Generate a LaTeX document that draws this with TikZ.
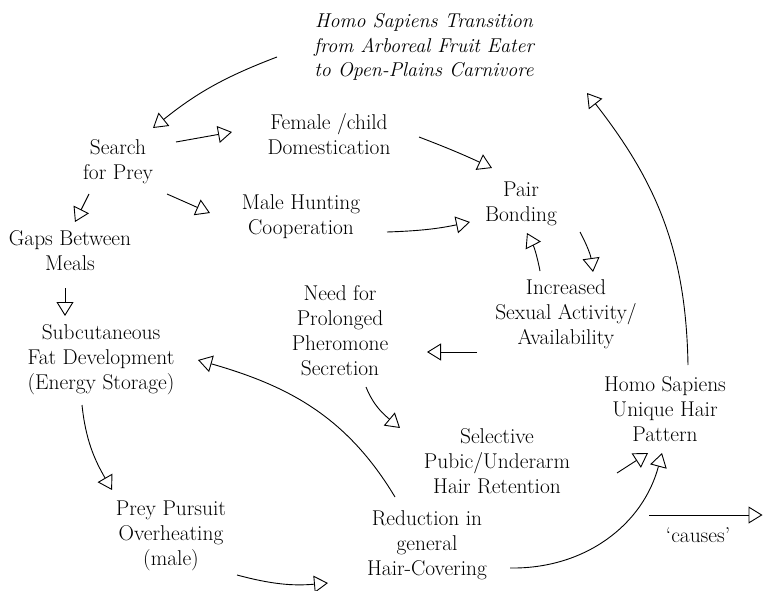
\documentclass[tikz,border=0pt]{standalone}
\usepackage{fontspec}
\usetikzlibrary{arrows.meta}
\begin{document}
\begin{tikzpicture}[x=1pt,y=-1pt,
  lbl/.style={align=center, font=\fontsize{21.4}{25}\selectfont, inner sep=0pt},
  cause/.style={-{Triangle[open,length=14pt,width=17pt]}, line width=0.9pt}]
\useasboundingbox (0,0) rectangle (763,591);

% factors of the loop
\node[lbl, font=\itshape\fontsize{20}{24.5}\selectfont] (title) at (424,47)
  {Homo Sapiens Transition\\from Arboreal Fruit Eater\\to Open-Plains Carnivore};
\node[lbl] (search) at (118,162) {Search\\for Prey};
\node[lbl] (female) at (329,134) {Female /child\\Domestication};
\node[lbl] (male)   at (301,217) {Male Hunting\\Cooperation};
\node[lbl] (gaps)   at (70,251)  {Gaps Between\\Meals};
\node[lbl] (pair)   at (521,204) {Pair\\Bonding};
\node[lbl] (incr)   at (566,314) {Increased\\Sexual Activity/\\Availability};
\node[lbl] (need)   at (340,331) {Need for\\Prolonged\\Pheromone\\Secretion};
\node[lbl] (subcut) at (101,360) {Subcutaneous\\Fat Development\\(Energy Storage)};
\node[lbl] (prey)   at (171,536) {Prey Pursuit\\Overheating\\(male)};
\node[lbl] (reduc)  at (427,545) {Reduction in\\general\\Hair-Covering};
\node[lbl] (select) at (497,461) {Selective\\Pubic/Underarm\\Hair Retention};
\node[lbl] (hair)   at (665,409) {Homo Sapiens\\Unique Hair\\Pattern};

% causal links
\draw[cause] ([shift={(-147,10)}]title.center) to[bend right=9] ([shift={(35,-34)}]search.center);
\draw[cause] ([shift={(58,-20)}]search.center) -- ([shift={(-97,-2)}]female.center);
\draw[cause] ([shift={(49,32)}]search.center) -- ([shift={(-91,-4)}]male.center);
\draw[cause] ([shift={(-29,32)}]search.center) -- ([shift={(5,-29)}]gaps.center);
\draw[cause] ([shift={(-5,37)}]gaps.center) -- ([shift={(-36,-44)}]subcut.center);
\draw[cause] ([shift={(90,3)}]female.center) to[bend left=2] ([shift={(-29,-36)}]pair.center);
\draw[cause] ([shift={(86,15)}]male.center) to[bend right=5] ([shift={(-51,18)}]pair.center);
\draw[cause] ([shift={(59,28)}]pair.center) to[bend left=10] ([shift={(27,-42)}]incr.center);
\draw[cause] ([shift={(-26,-43)}]incr.center) to[bend right=8] ([shift={(6,29)}]pair.center);
\draw[cause] ([shift={(-89,38)}]incr.center) -- ([shift={(87,21)}]need.center);
\draw[cause] ([shift={(26,56)}]need.center) to[out=-68,in=140] ([shift={(-97,-33)}]select.center);
\draw[cause] ([shift={(-32,-48)}]reduc.center) to[out=121,in=-16] ([shift={(97,0)}]subcut.center);
\draw[cause] ([shift={(-19,45)}]subcut.center) to[out=-84,in=120] ([shift={(-59,-46)}]prey.center);
\draw[cause] ([shift={(66,39)}]prey.center) to[bend right=10] ([shift={(-99,38)}]reduc.center);
\draw[cause] ([shift={(83,23)}]reduc.center) to[bend right=38] ([shift={(-3,44)}]hair.center);
\draw[cause] ([shift={(120,12)}]select.center) -- ([shift={(-17,44)}]hair.center);
\draw[cause] ([shift={(23,-44)}]hair.center) to[out=91,in=-52] ([shift={(163,46)}]title.center);

% legend
\coordinate (legA) at (649,515);
\coordinate (legB) at (762.5,515);
\draw[cause] (legA) -- (legB);
\node[lbl] (legtext) at (698,535) {`causes'};
\end{tikzpicture}
\end{document}
